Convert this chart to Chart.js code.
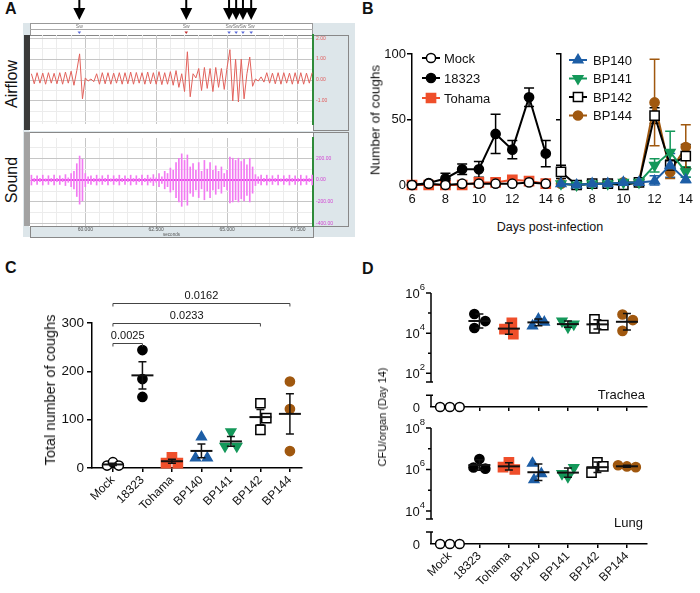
<!DOCTYPE html>
<html>
<head>
<meta charset="utf-8">
<script src="https://cdn.jsdelivr.net/npm/chart.js@4.4.0/dist/chart.umd.min.js"></script>
<style>
  body { margin: 0; width: 700px; height: 593px; position: relative; overflow: hidden; background: #fff;
         font-family: "Liberation Sans", Arial, sans-serif; color: #111; }
  canvas, .box, .txt { position: absolute; }
  .panel { position: absolute; font-weight: bold; font-size: 16px; }
  .rot { position: absolute; transform: translate(-50%, -50%) rotate(-90deg); white-space: nowrap; }
  .bg { background: #dde6ea; }
</style>
</head>
<body>
<!-- panel A chrome -->
<div class="box bg" style="left:23px;top:23px;width:332px;height:214px"></div>
<div class="box" style="left:30px;top:23px;width:281px;height:11px;background:#fff;border:1px solid #999"></div>
<div class="box" style="left:30px;top:29px;width:283px;height:1px;background:#aaa"></div>
<div class="box" style="left:29px;top:35px;width:284px;height:95px;background:#fff;border-top:1px solid #888"></div>
<div class="box" style="left:29px;top:132px;width:284px;height:94px;background:#fff;border-top:1px solid #888"></div>
<div class="box" style="left:24px;top:35px;width:6px;height:95px;background:#3a3a3a"></div>
<div class="box" style="left:24px;top:132px;width:6px;height:94px;background:#a2a2a2"></div>
<div class="box bg" style="left:313px;top:35px;width:34px;height:94px;border:1px solid #888"></div>
<div class="box bg" style="left:313px;top:132px;width:34px;height:93px;border:1px solid #888"></div>
<div class="box bg" style="left:30px;top:226px;width:282px;height:10px;border:1px solid #888"></div>
<div class="rot" style="left:12px;top:84px;font-size:16px">Airflow</div>
<div class="rot" style="left:12px;top:180px;font-size:16px">Sound</div>

<div class="panel" style="left:5px;top:0px">A</div>
<div class="panel" style="left:362px;top:0px">B</div>
<div class="panel" style="left:5px;top:259px">C</div>
<div class="panel" style="left:362px;top:260px">D</div>

<canvas id="airflow" width="318" height="130" style="left:30px;top:0px"></canvas>
<canvas id="sound" width="318" height="105" style="left:30px;top:132px"></canvas>

<canvas id="bLeft" width="200" height="175" style="left:360px;top:40px"></canvas>
<canvas id="bRight" width="150" height="175" style="left:550px;top:40px"></canvas>
<div class="rot" style="left:375px;top:120px;font-size:13.5px">Number of coughs</div>
<div class="txt" style="left:550px;top:227px;font-size:12.5px;transform:translate(-50%,-50%);white-space:nowrap">Days post-infection</div>

<canvas id="cChart" width="350" height="250" style="left:0px;top:283px"></canvas>
<div class="rot" style="left:50px;top:390px;font-size:14.5px">Total number of coughs</div>

<canvas id="trachea" width="350" height="140" style="left:350px;top:275px"></canvas>
<canvas id="lung" width="350" height="178" style="left:350px;top:415px"></canvas>
<div class="rot" style="left:382px;top:417px;font-size:11px">CFU/organ (Day 14)</div>
<div class="txt" style="right:55px;top:387px;font-size:13px">Trachea</div>
<div class="txt" style="right:57px;top:515px;font-size:13px">Lung</div>

<script>
// ---- panel A: one recording, 0.1 s samples from 58.1 s ----
const tStart = 58.1, tStep = 0.1;
const timeTicks = [60, 62.5, 65, 67.5];
const airflowTicks = [-1, 0, 1, 2];
const soundTicks = [-400, -200, 0, 200];
const coughTimes = [59.79, 63.56, 65.07, 65.32, 65.56, 65.85];
const coughTags = ['Sw', 'Sw', 'Sw', 'Sw', 'Sw', 'Sw'];

const airflow = [
  0.30, -0.18, 0.35, -0.15, 0.33, -0.20, 0.35, -0.15, 0.32, -0.18,
  0.35, -0.20, 0.38, -0.15, 0.42, -0.25, 0.45, 1.25, -0.90, 0.10,
  -0.05, 0.05, -0.08, 0.30, -0.20, 0.35, -0.18, 0.35, -0.20, 0.33,
  -0.15, 0.35, -0.20, 0.35, -0.18, 0.38, -0.20, 0.36, -0.15, 0.35,
  -0.20, 0.38, -0.18, 0.35, -0.20, 0.40, -0.22, 0.35, -0.20, 0.40,
  -0.25, 0.45, -0.35, 0.30, -0.55, 1.35, -0.80, 0.30, 0.10, 0.55,
  -0.50, 0.60, -0.40, 0.55, -0.55, 0.60, -0.35, 0.55, -0.45, 0.60,
  1.45, -1.00, 1.00, -1.05, 1.00, -0.90, 0.30, 1.10, -0.30, 0.05,
  -0.05, 0.15, -0.10, 0.35, -0.15, 0.33, -0.18, 0.35, -0.20, 0.35,
  -0.15, 0.33, -0.20, 0.35, -0.18, 0.35, -0.20, 0.33, -0.15, 0.35
];
const soundAmp = [
  45, 15, 40, 15, 45, 12, 40, 15, 45, 15,
  40, 15, 50, 20, 60, 80, 150, 220, 190, 60,
  30, 40, 15, 45, 15, 40, 15, 45, 12, 40,
  15, 45, 15, 40, 15, 45, 15, 40, 15, 45,
  15, 45, 20, 50, 20, 60, 30, 80, 60, 110,
  90, 160, 200, 240, 180, 230, 120, 150, 90, 160,
  80, 180, 100, 160, 90, 130, 80, 120, 60, 90,
  210, 200, 180, 200, 170, 190, 140, 200, 120, 50,
  30, 45, 15, 45, 15, 40, 15, 45, 12, 40,
  15, 45, 15, 40, 15, 45, 12, 40, 15, 45
];

// ---- panel B: coughs per day (mean, SEM) ----
const days = [6, 7, 8, 9, 10, 11, 12, 13, 14];
const dayTicks = [6, 8, 10, 12, 14];
const coughTicks = [0, 50, 100];
const mockDaily = [0, 1, 0, 1, 1, 1, 1, 2, 1];
const mockDailyErr = [0, 0, 0, 0, 0, 0, 0, 0, 0];
const s18323Daily = [0, 1.5, 5, 12, 12, 39, 27, 67, 24];
const s18323DailyErr = [0, 1, 4, 4, 6, 15, 7, 7, 10];
const tohamaDaily = [0, 0, 0, 0, 2, 2, 4, 3, 1];
const tohamaDailyErr = [0, 0, 0, 0, 0, 0, 0, 0, 0];
const bp140Daily = [1, 0, 1, 1, 2, 2, 3, 15, 4];
const bp140DailyErr = [0, 0, 0, 0, 0, 0, 4, 9, 2];
const bp141Daily = [1, 0, 1, 1, 2, 2, 15, 25, 10];
const bp141DailyErr = [0, 0, 0, 0, 0, 0, 5, 16, 4];
const bp142Daily = [10, 0, 1, 1, 0, 2, 53, 15, 22];
const bp142DailyErr = [5, 0, 0, 0, 0, 0, 6, 4, 9];
const bp144Daily = [1, 0, 1, 1, 2, 2, 63, 10, 29];
const bp144DailyErr = [0, 0, 0, 0, 0, 0, 33, 5, 17];

// ---- panel C: total coughs per mouse ----
const groups = ['Mock', '18323', 'Tohama', 'BP140', 'BP141', 'BP142', 'BP144'];
const totalTicks = [0, 100, 200, 300];
const totalCoughs = [
  [5, 12, 5],
  [244, 184, 147],
  [22, 10, 10],
  [64, 21, 21],
  [75, 45, 45],
  [134, 103, 79],
  [179, 122, 35]
];
const sigPairs = [[0, 1], [0, 5], [0, 6]];
const sigLabels = ['0.0025', '0.0233', '0.0162'];

// ---- panel D: CFU per organ on day 14 ----
const tracheaCfu = [
  [0, 0, 0],
  [9e4, 4e4, 1.8e4],
  [3.3e4, 1.6e4, 9e3],
  [5e4, 3.5e4, 2.3e4],
  [4e4, 2.8e4, 2e4],
  [4.8e4, 2.5e4, 1.7e4],
  [8.5e4, 4.5e4, 1.3e4]
];
const lungCfu = [
  [0, 0, 0],
  [3.2e6, 1.25e6, 1.1e6],
  [2.2e6, 1.3e6, 1e6],
  [2e6, 6.3e5, 3.2e5],
  [1.25e6, 6.3e5, 4.5e5],
  [2.2e6, 1.4e6, 7e5],
  [1.6e6, 1.4e6, 1.3e6]
];
const tracheaDecades = [2, 4, 6];
const lungDecades = [4, 6, 8];

// layout-only: sideways spread of overlapping dots
const cJitter = [[-0.2, 0, 0.2], [0, 0, 0], [0, -0.2, 0.2], [0, -0.2, 0.2], [0, -0.2, 0.2], [0, 0.2, 0], [0, 0, 0]];
const tJitter = [[-0.33, 0, 0.33], [-0.17, 0.2, -0.17], [0.1, -0.15, 0.15], [0, 0.2, -0.2], [-0.2, 0.2, 0], [-0.1, 0.2, -0.1], [-0.15, 0.2, -0.15]];
const lJitter = [[-0.33, 0, 0.33], [0, -0.2, 0.2], [0, -0.2, 0.2], [-0.2, 0.1, -0.15], [0.2, -0.2, 0], [0, 0.2, -0.2], [-0.3, 0, 0.3]];

const FONT = '"Liberation Sans", Arial, sans-serif';
const RED = '#ef4f2b', BLUE = '#1d5ea6', GREEN = '#14985a', BROWN = '#a0580f';
const groupStyle = {
  'Mock':   { shape: 'circle', fill: '#fff', line: '#000' },
  '18323':  { shape: 'circle', fill: '#000', line: '#000' },
  'Tohama': { shape: 'rect', fill: RED, line: RED },
  'BP140':  { shape: 'triangle', fill: BLUE, line: BLUE },
  'BP141':  { shape: 'triangle', rot: 180, fill: GREEN, line: GREEN },
  'BP142':  { shape: 'rect', fill: '#fff', line: '#000' },
  'BP144':  { shape: 'circle', fill: BROWN, line: BROWN }
};
const shapeRadius = { circle: 4.6, rect: 6.5, triangle: 5.6 };

function markerStyle(g) {
  const s = groupStyle[g];
  return {
    pointStyle: s.shape, pointRotation: s.rot || 0, pointRadius: shapeRadius[s.shape],
    pointBackgroundColor: s.fill, pointBorderColor: s.line, pointBorderWidth: 1.5,
    borderColor: s.line, backgroundColor: s.fill, clip: false
  };
}

Chart.defaults.font.family = FONT;
Chart.defaults.color = '#111';
Chart.defaults.animation = false;
Chart.defaults.plugins.legend.display = false;
Chart.defaults.plugins.tooltip.enabled = false;

const sampleTime = i => +(tStart + i * tStep).toFixed(2);
const halfSecondTicks = s => { const t = []; for (let v = 58.5; v <= 68; v += 0.5) t.push({ value: v }); s.ticks = t; };
const isMajorTime = v => timeTicks.includes(v);

// arrows and event tags over the airflow trace
const coughMarks = {
  id: 'coughMarks',
  afterDraw(chart) {
    const { ctx } = chart, xs = chart.scales.x;
    ctx.save();
    coughTimes.forEach((t, i) => {
      const x = xs.getPixelForValue(t);
      ctx.fillStyle = '#000';
      ctx.fillRect(x - 1, 0, 2, 10);
      ctx.beginPath(); ctx.moveTo(x - 6, 8); ctx.lineTo(x + 6, 8); ctx.lineTo(x, 20); ctx.closePath(); ctx.fill();
      ctx.fillStyle = '#777'; ctx.font = '5px ' + FONT; ctx.textAlign = 'center';
      ctx.fillText(coughTags[i], x, 28);
      ctx.fillStyle = i === 1 ? '#c03030' : '#5a6ad8';
      ctx.beginPath(); ctx.moveTo(x - 1.8, 31.5); ctx.lineTo(x + 1.8, 31.5); ctx.lineTo(x, 34); ctx.closePath(); ctx.fill();
    });
    ctx.restore();
  }
};

new Chart(document.getElementById('airflow'), {
  type: 'line',
  data: { datasets: [{ data: airflow.map((v, i) => ({ x: sampleTime(i), y: v })), borderColor: '#e2625c', borderWidth: 1, pointRadius: 0, tension: 0 }] },
  options: {
    responsive: false, layout: { padding: { top: 35 } },
    scales: {
      x: { type: 'linear', min: 58.05, max: 68.03, afterBuildTicks: halfSecondTicks,
           ticks: { display: false }, grid: { color: c => isMajorTime(c.tick.value) ? '#c6c6c6' : '#ececec', drawTicks: false },
           border: { display: false }, afterFit: s => { s.height = 0; } },
      y: { position: 'right', min: -2.1, max: 2.15,
           afterBuildTicks: s => { const t = []; for (let v = -2; v <= 2; v += 0.5) t.push({ value: v }); s.ticks = t; },
           ticks: { color: '#e05a5a', font: { size: 5 }, padding: 3, callback: v => airflowTicks.includes(v) ? v.toFixed(2) : '' },
           grid: { color: c => airflowTicks.includes(c.tick.value) ? '#c6c6c6' : '#ececec', drawTicks: false },
           border: { color: '#2e8b3a', width: 2 }, afterFit: s => { s.width = 35; } }
    }
  },
  plugins: [coughMarks]
});

new Chart(document.getElementById('sound'), {
  type: 'line',
  data: { datasets: [
    { type: 'bar', data: soundAmp.map((a, i) => ({ x: sampleTime(i), y: [-a, a] })), backgroundColor: '#f27af2', barThickness: 1, grouped: false },
    { type: 'line', data: [{ x: tStart, y: 0 }, { x: sampleTime(soundAmp.length - 1), y: 0 }], borderColor: '#e63ce6', borderWidth: 2, pointRadius: 0 }
  ] },
  options: {
    responsive: false,
    scales: {
      x: { type: 'linear', offset: false, min: 58.05, max: 68.03, afterBuildTicks: halfSecondTicks,
           ticks: { font: { size: 5 }, color: '#555', padding: 1, maxRotation: 0, autoSkip: false, callback: v => isMajorTime(v) ? v.toFixed(3) : '' },
           grid: { offset: false, color: c => isMajorTime(c.tick.value) ? '#c6c6c6' : '#ececec', drawTicks: false },
           border: { display: false }, title: { display: true, text: 'seconds', font: { size: 4.5 }, color: '#555', padding: 0 },
           afterFit: s => { s.height = 11; } },
      y: { position: 'right', min: -420, max: 385,
           afterBuildTicks: s => { s.ticks = [-400, -300, -200, -100, 0, 100, 200, 300].map(v => ({ value: v })); },
           ticks: { color: '#d23fd2', font: { size: 5 }, padding: 3, callback: v => soundTicks.includes(v) ? v.toFixed(2) : '' },
           grid: { color: c => soundTicks.includes(c.tick.value) ? '#c6c6c6' : '#ececec', drawTicks: false },
           border: { color: '#2e8b3a', width: 2 }, afterFit: s => { s.width = 35; } }
    }
  }
});

// ---- panel B ----
const errorBars = {
  id: 'errorBars',
  beforeDatasetsDraw(chart) {
    const { ctx, scales: { x, y } } = chart;
    ctx.save(); ctx.lineWidth = 1.5;
    chart.data.datasets.forEach(ds => {
      ctx.strokeStyle = ds.borderColor;
      ds.data.forEach((p, k) => {
        const e = ds.errs[k];
        if (!e) return;
        const px = x.getPixelForValue(p.x), top = y.getPixelForValue(p.y + e), bot = y.getPixelForValue(Math.max(p.y - e, 0));
        ctx.beginPath();
        ctx.moveTo(px, bot); ctx.lineTo(px, top);
        ctx.moveTo(px - 5, top); ctx.lineTo(px + 5, top);
        ctx.moveTo(px - 5, bot); ctx.lineTo(px + 5, bot);
        ctx.stroke();
      });
    });
    ctx.restore();
  }
};

const lineLegend = {
  id: 'lineLegend',
  afterDraw(chart, args, o) {
    const { ctx, chartArea } = chart;
    ctx.save();
    chart.data.datasets.forEach((ds, i) => {
      const y = chartArea.top + o.top + i * o.gap, x0 = chartArea.left + o.left, xm = x0 + o.len / 2;
      ctx.strokeStyle = ds.borderColor; ctx.lineWidth = 2;
      ctx.beginPath(); ctx.moveTo(x0, y); ctx.lineTo(x0 + o.len, y); ctx.stroke();
      ctx.fillStyle = ds.pointBackgroundColor; ctx.strokeStyle = ds.pointBorderColor; ctx.lineWidth = 1.5;
      Chart.helpers.drawPoint(ctx, { pointStyle: ds.pointStyle, rotation: ds.pointRotation, radius: ds.pointRadius, borderWidth: 1.5 }, xm, y);
      ctx.fillStyle = '#111'; ctx.font = '13px ' + FONT; ctx.textBaseline = 'middle'; ctx.textAlign = 'left';
      ctx.fillText(ds.label, x0 + o.len + o.textGap, y + 1);
    });
    ctx.restore();
  }
};

function dailySet(label, vals, errs) {
  return Object.assign({ label, data: vals.map((v, k) => ({ x: days[k], y: v })), errs, borderWidth: 2, tension: 0 }, markerStyle(label));
}

function dailyOptions(yWidth, padRight, showLabels, legend) {
  return {
    responsive: false, layout: { padding: { top: 14, right: padRight } },
    scales: {
      x: { type: 'linear', min: 6, max: 14, afterBuildTicks: s => { s.ticks = dayTicks.map(v => ({ value: v })); },
           ticks: { font: { size: 13 }, padding: 7 }, grid: { display: false, drawTicks: false }, border: { display: false },
           afterFit: s => { s.height = 30; } },
      y: { min: 0, max: 100, afterBuildTicks: s => { s.ticks = coughTicks.map(v => ({ value: v })); },
           ticks: { display: showLabels, font: { size: 13 }, padding: 1 },
           grid: { drawOnChartArea: false, tickLength: 5, color: '#000', lineWidth: 1.5 },
           border: { color: '#000', width: 1.5 }, afterFit: s => { s.width = yWidth; } }
    },
    plugins: { lineLegend: legend }
  };
}

new Chart(document.getElementById('bLeft'), {
  type: 'line',
  data: { datasets: [
    dailySet('Mock', mockDaily, mockDailyErr),
    dailySet('18323', s18323Daily, s18323DailyErr),
    dailySet('Tohama', tohamaDaily, tohamaDailyErr)
  ] },
  options: dailyOptions(52, 12, true, { top: 4, gap: 20, left: 10, len: 18, textGap: 4 }),
  plugins: [errorBars, lineLegend]
});

new Chart(document.getElementById('bRight'), {
  type: 'line',
  data: { datasets: [
    dailySet('BP140', bp140Daily, bp140DailyErr),
    dailySet('BP141', bp141Daily, bp141DailyErr),
    dailySet('BP142', bp142Daily, bp142DailyErr),
    dailySet('BP144', bp144Daily, bp144DailyErr)
  ] },
  options: dailyOptions(11, 8, false, { top: 6, gap: 18.5, left: 8, len: 18, textGap: 6 }),
  plugins: [errorBars, lineLegend]
});

// ---- mean +/- SEM (C) or geometric mean +/- SD (D) ----
const meanErr = {
  id: 'meanErr',
  afterDatasetsDraw(chart, args, o) {
    const { ctx, scales: { x, y } } = chart;
    ctx.save(); ctx.strokeStyle = '#111';
    chart.data.datasets.forEach((ds, i) => {
      let vals = ds.raw;
      if (o.log) { if (vals.some(v => v <= 0)) return; vals = vals.map(Math.log10); }
      const n = vals.length, m = vals.reduce((a, b) => a + b, 0) / n;
      const sd = Math.sqrt(vals.reduce((a, b) => a + (b - m) ** 2, 0) / (n - 1));
      const e = o.sem ? sd / Math.sqrt(n) : sd;
      const cx = x.getPixelForValue(i), pm = y.getPixelForValue(m), pt = y.getPixelForValue(m + e), pb = y.getPixelForValue(m - e);
      ctx.lineWidth = 2;
      ctx.beginPath(); ctx.moveTo(cx - o.half, pm); ctx.lineTo(cx + o.half, pm); ctx.stroke();
      ctx.lineWidth = 1.5;
      ctx.beginPath();
      ctx.moveTo(cx, pt); ctx.lineTo(cx, pb);
      ctx.moveTo(cx - o.cap, pt); ctx.lineTo(cx + o.cap, pt);
      ctx.moveTo(cx - o.cap, pb); ctx.lineTo(cx + o.cap, pb);
      ctx.stroke();
    });
    ctx.restore();
  }
};

const brackets = {
  id: 'brackets',
  afterDraw(chart, args, o) {
    const { ctx, scales: { x, y } } = chart;
    ctx.save(); ctx.strokeStyle = '#444'; ctx.lineWidth = 1; ctx.fillStyle = '#111';
    ctx.font = '11px ' + FONT; ctx.textAlign = 'center'; ctx.textBaseline = 'bottom';
    sigPairs.forEach(([a, b], i) => {
      const x1 = x.getPixelForValue(a), x2 = x.getPixelForValue(b), yy = Math.round(y.getPixelForValue(o.levels[i])) + 0.5;
      ctx.beginPath(); ctx.moveTo(x1, yy + 3); ctx.lineTo(x1, yy); ctx.lineTo(x2, yy); ctx.lineTo(x2, yy + 3); ctx.stroke();
      ctx.fillText(sigLabels[i], (x1 + x2) / 2, yy - 2);
    });
    ctx.restore();
  }
};

const groupTicks = s => { s.ticks = groups.map((g, i) => ({ value: i })); };

new Chart(document.getElementById('cChart'), {
  type: 'scatter',
  data: { datasets: groups.map((g, i) => Object.assign({
    raw: totalCoughs[i], data: totalCoughs[i].map((v, k) => ({ x: i + cJitter[i][k], y: v }))
  }, markerStyle(g))) },
  options: {
    responsive: false, layout: { padding: { top: 40, right: 48 } },
    scales: {
      x: { type: 'linear', min: -0.71, max: 6.41, afterBuildTicks: groupTicks,
           ticks: { callback: v => groups[v], minRotation: 45, maxRotation: 45, autoSkip: false, font: { size: 12 }, padding: 1 },
           grid: { drawOnChartArea: false, tickLength: 4, color: '#000', lineWidth: 1.5 },
           border: { color: '#000', width: 1.5 }, afterFit: s => { s.height = 65; } },
      y: { min: 0, max: 300, afterBuildTicks: s => { s.ticks = totalTicks.map(v => ({ value: v })); },
           ticks: { font: { size: 13.5 }, padding: 3 },
           grid: { drawOnChartArea: false, tickLength: 5, color: '#000', lineWidth: 1.5 },
           border: { color: '#000', width: 1.5 }, afterFit: s => { s.width = 92; } }
    },
    plugins: { meanErr: { sem: true, half: 11, cap: 4 }, brackets: { levels: [258, 300, 342] } }
  },
  plugins: [meanErr, brackets]
});

// ---- panel D: log axis with a break down to zero ----
const brokenAxis = {
  id: 'brokenAxis',
  afterDraw(chart, args, o) {
    const { ctx, chartArea: { left } } = chart, y = chart.scales.y;
    const P = v => y.getPixelForValue(v);
    ctx.save(); ctx.strokeStyle = '#000'; ctx.lineWidth = 1.5;
    ctx.beginPath();
    ctx.moveTo(left, P(o.max)); ctx.lineTo(left, P(o.mainLow));
    ctx.moveTo(left - 5, P(o.mainLow)); ctx.lineTo(left + 2, P(o.mainLow));
    ctx.moveTo(left - 5, P(o.segHigh)); ctx.lineTo(left + 2, P(o.segHigh));
    ctx.moveTo(left, P(o.segHigh)); ctx.lineTo(left, P(o.zero));
    for (let d = o.decades[0]; d <= o.max; d++) {
      const len = o.decades.includes(d) ? 5 : 3;
      ctx.moveTo(left - len, P(d)); ctx.lineTo(left, P(d));
    }
    ctx.stroke();
    ctx.fillStyle = '#111'; ctx.textAlign = 'right'; ctx.textBaseline = 'middle';
    o.decades.forEach(d => {
      const py = P(d);
      ctx.font = '9.5px ' + FONT;
      const ew = ctx.measureText(String(d)).width;
      ctx.fillText(String(d), left - 6, py - 6);
      ctx.font = '13px ' + FONT;
      ctx.fillText('10', left - 6 - ew, py + 1);
    });
    ctx.font = '13px ' + FONT;
    ctx.fillText('0', left - 11, P(o.zero) + 1);
    ctx.restore();
  }
};

function organChart(id, cfu, jitter, cfg) {
  return new Chart(document.getElementById(id), {
    type: 'scatter',
    data: { datasets: groups.map((g, i) => Object.assign({
      raw: cfu[i], data: cfu[i].map((v, k) => ({ x: i + jitter[i][k], y: v > 0 ? Math.log10(v) : cfg.zero }))
    }, markerStyle(g))) },
    options: {
      responsive: false, layout: { padding: { top: cfg.padTop, right: 53 } },
      scales: {
        x: { type: 'linear', min: -0.64, max: 6.68, afterBuildTicks: groupTicks,
             ticks: { display: cfg.labels, callback: v => groups[v], minRotation: 45, maxRotation: 45, autoSkip: false, font: { size: 12 }, padding: 1 },
             grid: { drawOnChartArea: false, tickLength: 4, color: '#000', lineWidth: 1.5 },
             border: { color: '#000', width: 1.5 }, afterFit: s => { s.height = cfg.xHeight; } },
        y: { min: cfg.zero, max: cfg.max, ticks: { display: false }, grid: { display: false, drawTicks: false },
             border: { display: false }, afterFit: s => { s.width = 81; } }
      },
      plugins: { meanErr: { log: true, sem: false, half: 11, cap: 4 }, brokenAxis: cfg }
    },
    plugins: [meanErr, brokenAxis]
  });
}

organChart('trachea', tracheaCfu, tJitter,
  { zero: 0.32, max: 6, mainLow: 1.56, segHigh: 0.91, decades: tracheaDecades, labels: false, padTop: 18, xHeight: 7 });
organChart('lung', lungCfu, lJitter,
  { zero: 2.41, max: 8, mainLow: 3.61, segHigh: 2.99, decades: lungDecades, labels: true, padTop: 13, xHeight: 49 });
</script>
</body>
</html>
